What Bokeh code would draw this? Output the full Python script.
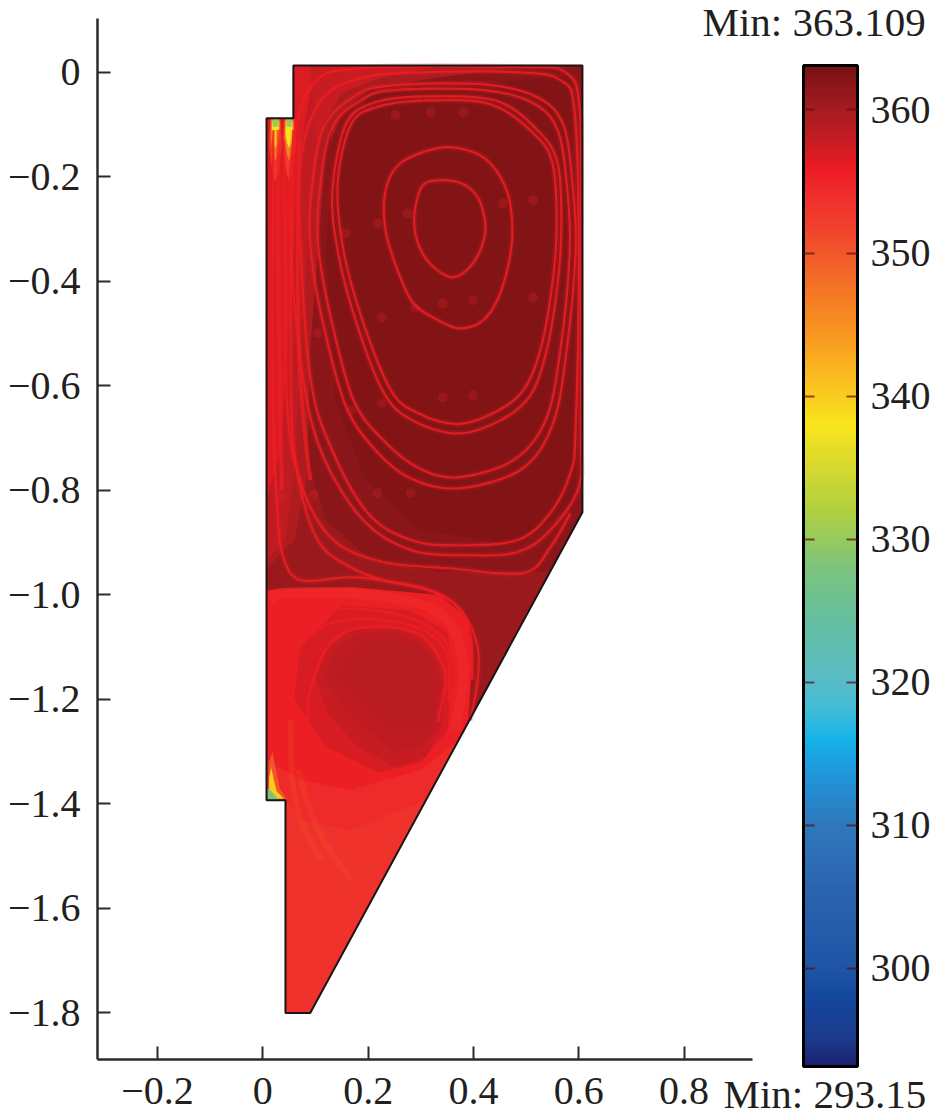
import numpy as np
from bokeh.plotting import figure
from bokeh.models import (ColumnDataSource, Range1d, FixedTicker, ColorBar, LinearColorMapper)
from bokeh.embed import file_html
from bokeh.resources import INLINE

T_MIN = 293.15
T_MAX = 363.109
bar_ticks = [300, 310, 320, 330, 340, 350, 360]
x_ticks = [-0.2, 0, 0.2, 0.4, 0.6, 0.8]
x_tick_labels = ["\u22120.2", "0", "0.2", "0.4", "0.6", "0.8"]
y_ticks = [0, -0.2, -0.4, -0.6, -0.8, -1.0, -1.2, -1.4, -1.6, -1.8]
y_tick_labels = ["0", "\u22120.2", "\u22120.4", "\u22120.6", "\u22120.8", "\u22121.0",
                 "\u22121.2", "\u22121.4", "\u22121.6", "\u22121.8"]
top_note = "Min: 363.109"
bottom_note = "Min: 293.15"

# colour scale
scale_T = [293.15, 295, 298, 300, 305, 310, 314, 316, 318, 320, 325, 328, 332, 336, 338,
           341, 345, 349, 352, 354, 356, 358, 360, 362, 363.2]
scale_hex = ["#1a2270", "#1c3a8c", "#14489e", "#1f55a6", "#2a62ae", "#2f78bc", "#1e9ade",
             "#14b4e8", "#40bcd8", "#58bcc8", "#68bf98", "#7cc47c", "#b0d040", "#e2dc2a",
             "#f8e61c", "#fbc020", "#f79020", "#f26428", "#f0402c", "#ef302c", "#ec1c24",
             "#c41c22", "#a81c20", "#8a161a", "#781212"]

domain_x = [0.058, 0.607, 0.607, 0.090, 0.043, 0.043, 0.007, 0.007, 0.058]
domain_y = [0.013, 0.013, -0.842, -1.80, -1.80, -1.393, -1.393, -0.088, -0.088]

# temperature regions, painted in order
region_T = [353.8, 354.4, 355.6, 360.8, 359.4, 358.2, 356.6, 361.8, 362.5,
            359.8, 357.8,
            357.0, 357.8, 358.2, 358.6, 359.0,
            352, 346, 338, 330, 352, 346, 338, 330,
            350, 340, 328]
region_x = [
    domain_x,
    [0.058, 0.607, 0.607, 0.310, 0.167, 0.072, 0.043, 0.007, 0.007, 0.058],
    [0.058, 0.607, 0.607, 0.372, 0.299, 0.167, 0.072, 0.007, 0.007, 0.058],
    [0.058, 0.607, 0.607, 0.390, 0.398, 0.391, 0.337, 0.167, 0.007, 0.007, 0.058],
    [0.058, 0.360, 0.260, 0.150, 0.125, 0.100, 0.090, 0.060, 0.007, 0.007, 0.058],
    [0.058, 0.300, 0.205, 0.119, 0.091, 0.072, 0.062, 0.043, 0.007, 0.007, 0.058],
    [0.058, 0.167, 0.091, 0.068, 0.053, 0.034, 0.007, 0.007, 0.058],
    [0.160, 0.607, 0.607, 0.545, 0.337, 0.205, 0.120, 0.085, 0.090, 0.105, 0.120],
    [0.205, 0.584, 0.598, 0.594, 0.489, 0.300, 0.195, 0.138, 0.119, 0.138],
    [0.130, 0.500, 0.300, 0.200, 0.150, 0.130],
    [0.090, 0.340, 0.220, 0.150, 0.120, 0.100],
    [0.060, 0.070, 0.150, 0.280, 0.350, 0.365, 0.350, 0.300, 0.220, 0.120],
    [0.100, 0.123, 0.167, 0.248, 0.305, 0.337, 0.347, 0.340, 0.310, 0.250, 0.180, 0.125],
    [0.118, 0.135, 0.175, 0.248, 0.300, 0.330, 0.340, 0.335, 0.300, 0.250, 0.200, 0.150],
    [0.140, 0.180, 0.248, 0.295, 0.325, 0.332, 0.325, 0.290, 0.240, 0.190],
    [0.170, 0.200, 0.250, 0.290, 0.315, 0.320, 0.300, 0.250, 0.200],
    [0.014, 0.034, 0.036, 0.030, 0.024, 0.018, 0.012],
    [0.016, 0.032, 0.033, 0.029, 0.024, 0.019, 0.015],
    [0.018, 0.030, 0.031, 0.028, 0.024, 0.020, 0.017],
    [0.019, 0.029, 0.029, 0.019],
    [0.040, 0.060, 0.062, 0.056, 0.050, 0.044, 0.038],
    [0.042, 0.058, 0.059, 0.055, 0.050, 0.045, 0.041],
    [0.044, 0.056, 0.057, 0.054, 0.050, 0.046, 0.043],
    [0.045, 0.055, 0.055, 0.045],
    [0.010, 0.045, 0.032, 0.024, 0.018, 0.012],
    [0.012, 0.040, 0.026, 0.020, 0.016, 0.012],
    [0.008, 0.030, 0.016, 0.009],
]
region_y = [
    domain_y,
    [0.013, 0.013, -0.842, -1.392, -1.45, -1.43, -1.393, -1.393, -0.088, -0.088],
    [0.013, 0.013, -0.842, -1.278, -1.335, -1.373, -1.354, -1.316, -0.088, -0.088],
    [0.013, 0.013, -0.842, -1.243, -1.125, -1.048, -1.000, -0.985, -0.991, -0.088, -0.088],
    [0.013, 0.011, -0.015, -0.070, -0.245, -0.532, -0.742, -0.895, -0.950, -0.088, -0.088],
    [0.013, 0.010, -0.025, -0.082, -0.245, -0.532, -0.742, -0.895, -0.933, -0.088, -0.088],
    [0.013, 0.010, -0.034, -0.168, -0.436, -0.723, -0.818, -0.088, -0.088],
    [0.013, 0.013, -0.842, -0.956, -0.956, -0.933, -0.857, -0.742, -0.532, -0.340, -0.130],
    [-0.044, -0.006, -0.436, -0.818, -0.905, -0.876, -0.780, -0.627, -0.340, -0.130],
    [0.013, 0.013, -0.015, -0.035, -0.080, -0.130],
    [0.013, 0.013, -0.012, -0.040, -0.090, -0.130],
    [-1.200, -1.100, -1.020, -1.030, -1.070, -1.150, -1.260, -1.320, -1.340, -1.290],
    [-1.160, -1.100, -1.067, -1.062, -1.081, -1.125, -1.163, -1.250, -1.310, -1.330, -1.290, -1.230],
    [-1.160, -1.105, -1.075, -1.070, -1.088, -1.130, -1.170, -1.250, -1.290, -1.300, -1.260, -1.210],
    [-1.150, -1.090, -1.080, -1.095, -1.135, -1.180, -1.240, -1.260, -1.255, -1.210],
    [-1.140, -1.100, -1.090, -1.105, -1.140, -1.190, -1.230, -1.230, -1.190],
    [-0.090, -0.090, -0.140, -0.190, -0.210, -0.190, -0.140],
    [-0.090, -0.090, -0.125, -0.155, -0.170, -0.155, -0.125],
    [-0.094, -0.094, -0.115, -0.135, -0.145, -0.135, -0.115],
    [-0.090, -0.090, -0.104, -0.104],
    [-0.090, -0.090, -0.140, -0.190, -0.210, -0.190, -0.140],
    [-0.090, -0.090, -0.125, -0.155, -0.170, -0.155, -0.125],
    [-0.094, -0.094, -0.115, -0.135, -0.145, -0.135, -0.115],
    [-0.090, -0.090, -0.104, -0.104],
    [-1.390, -1.390, -1.370, -1.330, -1.300, -1.320],
    [-1.390, -1.390, -1.375, -1.350, -1.330, -1.350],
    [-1.392, -1.392, -1.375, -1.370],
]

# closed streamlines of the upper vortex
loop1_x = [.313, .370, .408, .423, .413, .391, .362, .332, .303, .288, .294]
loop1_y = [-.210, -.210, -.239, -.296, -.340, -.375, -.392, -.379, -.346, -.296, -.239]
loop2_x = [.332, .389, .432, .465, .474, .467, .448, .419, .375, .332, .286, .256, .233, .233, .261]
loop2_y = [-.145, -.149, -.174, -.231, -.302, -.365, -.430, -.474, -.490, -.474, -.442, -.379, -.302, -.226, -.174]
loop3_x = [.142, .167, .214, .305, .432, .514, .550, .558, .550, .527, .495, .442, .370, .294, .243, .189, .153]
loop3_y = [-.212, -.101, -.067, -.054, -.061, -.117, -.174, -.289, -.404, -.532, -.608, -.650, -.673, -.652, -.608, -.474, -.340]
loop4_x = [.132, .157, .208, .305, .442, .522, .560, .567, .560, .539, .508, .451, .370, .284, .229, .176, .142]
loop4_y = [-.226, -.101, -.059, -.046, -.054, -.111, -.174, -.289, -.404, -.532, -.618, -.666, -.691, -.666, -.612, -.474, -.340]
loop5_x = [.106, .129, .186, .248, .419, .514, .560, .577, .583, .565, .537, .476, .370, .294, .229, .172, .129, .106]
loop5_y = [-.245, -.111, -.054, -.034, -.034, -.059, -.111, -.212, -.340, -.532, -.666, -.742, -.775, -.756, -.704, -.627, -.469, -.340]
loop6_x = [.091, .113, .176, .248, .419, .522, .571, .588, .594, .577, .550, .489, .370, .281, .214, .157, .113, .091]
loop6_y = [-.245, -.111, -.044, -.025, -.023, -.048, -.101, -.212, -.340, -.532, -.675, -.761, -.796, -.777, -.723, -.637, -.474, -.340]
loop7_x = [.091, .072, .072, .110, .186, .300, .489, .565, .592, .600, .594, .584, .546, .484, .370, .281, .199, .129]
loop7_y = [-.589, -.340, -.168, -.054, -.011, 0, 0, -.015, -.073, -.340, -.685, -.767, -.843, -.895, -.905, -.895, -.843, -.717]
loop8_x = [.077, .053, .056, .094, .186, .489, .575, .602, .604, .604, .600, .546, .484, .389, .281, .191, .115]
loop8_y = [-.589, -.340, -.149, -.025, .008, .010, 0, -.073, -.340, -.685, -.794, -.876, -.918, -.924, -.914, -.857, -.736]
upper_loops_x = [loop1_x, loop2_x, loop3_x, loop4_x, loop5_x, loop6_x, loop7_x, loop8_x]
upper_loops_y = [loop1_y, loop2_y, loop3_y, loop4_y, loop5_y, loop6_y, loop7_y, loop8_y]

# open streamlines: wall strips, separatrix, lower vortex
open1_x = [.039, .043, .047, .077, .134, .229, .356, .495, .546, .584]
open1_y = [-.130, -.340, -.652, -.800, -.895, -.937, -.949, -.958, -.909, -.844]
open2_x = [.020, .018, .028, .039, .072, .167, .248, .332, .381, .408, .408, .394]
open2_y = [-.111, -.589, -.844, -.928, -.972, -.966, -.976, -.997, -1.035, -1.100, -1.163, -1.240]
open3_x = [.058, .053, .066, .104, .167, .229, .305, .362, .394, .398]
open3_y = [-.111, -.589, -.767, -.895, -.947, -.972, -.987, -1.016, -1.073, -1.163]
ring2_x = [.024, .030, .072, .148, .261, .337, .360, .356]
ring2_y = [-1.240, -1.087, -1.039, -1.025, -1.039, -1.077, -1.134, -1.220]
ring3_x = [.062, .056, .081, .157, .280, .347, .353]
ring3_y = [-1.297, -1.163, -1.087, -1.048, -1.058, -1.106, -1.201]
ring4_x = [.091, .085, .096, .123, .167, .248, .305, .337, .347, .332]
ring4_y = [-1.354, -1.226, -1.163, -1.100, -1.067, -1.062, -1.081, -1.125, -1.163, -1.245]
lower_lines_x = [open1_x, open2_x, open3_x, ring2_x, ring3_x, ring4_x]
lower_lines_y = [open1_y, open2_y, open3_y, ring2_y, ring3_y, ring4_y]

band_x = [.015, .034, .167, .294, .351, .375, .381, .366]
band_y = [-1.010, -.997, -.997, -1.016, -1.048, -1.100, -1.163, -1.259]

streak1_x = [.030, .029, .032, .036]
streak1_y = [-.110, -.350, -.600, -.800]
streak2_x = [.070, .066, .072, .090]
streak2_y = [-.130, -.350, -.600, -.780]

faint1_x = [.068, .085, .115, .167]
faint1_y = [-1.335, -1.398, -1.469, -1.546]
faint2_x = [.053, .056, .072, .110]
faint2_y = [-1.240, -1.354, -1.431, -1.507]

spot_x = [.252, .319, .381, .218, .275, .158, .513, .456, .513, .342, .399, .226, .289,
          .104, .039, .342, .399, .167, .226, .218, .281, .097, .037]
spot_y = [-.082, -.077, -.077, -.289, -.270, -.308, -.245, -.251, -.431, -.442, -.436,
          -.469, -.451, -.499, -.499, -.622, -.618, -.647, -.633, -.805, -.805, -.809, -.813]


def hex_rgb(h):
    return [int(h[i:i + 2], 16) for i in (1, 3, 5)]


rgb = np.array([hex_rgb(h) for h in scale_hex], dtype=float)
levels = np.linspace(T_MIN, T_MAX, 256)
palette = ["#%02x%02x%02x" % tuple(int(round(np.interp(t, scale_T, rgb[:, k]))) for k in range(3))
           for t in levels]
mapper = LinearColorMapper(palette=palette, low=T_MIN, high=T_MAX)


def curve_segments(xs, ys, closed):
    """Bezier segments through the read points (Catmull-Rom tangents)."""
    n = len(xs)
    out = {k: [] for k in ("x0", "y0", "x1", "y1", "cx0", "cy0", "cx1", "cy1")}
    last = n if closed else n - 1
    for i in range(last):
        if closed:
            a, b, c, d = (i - 1) % n, i, (i + 1) % n, (i + 2) % n
        else:
            a, b, c, d = max(i - 1, 0), i, i + 1, min(i + 2, n - 1)
        out["x0"].append(xs[b]); out["y0"].append(ys[b])
        out["x1"].append(xs[c]); out["y1"].append(ys[c])
        out["cx0"].append(xs[b] + (xs[c] - xs[a]) / 6); out["cy0"].append(ys[b] + (ys[c] - ys[a]) / 6)
        out["cx1"].append(xs[c] - (xs[d] - xs[b]) / 6); out["cy1"].append(ys[c] - (ys[d] - ys[b]) / 6)
    return out


def draw_curves(fig, xs_list, ys_list, closed, **kw):
    merged = {k: [] for k in ("x0", "y0", "x1", "y1", "cx0", "cy0", "cx1", "cy1")}
    for xs, ys in zip(xs_list, ys_list):
        seg = curve_segments(xs, ys, closed)
        for k in merged:
            merged[k].extend(seg[k])
    fig.bezier("x0", "y0", "x1", "y1", "cx0", "cy0", "cx1", "cy1",
               source=ColumnDataSource(merged), **kw)


FONT = "Liberation Serif"
FS = "40px"
INK = "#231f20"

p = figure(frame_width=655, frame_height=1041, min_border_left=97, min_border_right=179,
           min_border_top=18, min_border_bottom=60,
           x_range=Range1d(-0.314, 0.930), y_range=Range1d(-1.889, 0.103),
           output_backend="svg", toolbar_location=None)
p.grid.visible = False
p.outline_line_color = None
p.background_fill_color = "white"

for ax, ticks, labels in ((p.xaxis[0], x_ticks, x_tick_labels), (p.yaxis[0], y_ticks, y_tick_labels)):
    ax.ticker = FixedTicker(ticks=ticks)
    ax.major_label_overrides = dict(zip(ticks, labels))
    ax.major_tick_in = 13
    ax.major_tick_out = 0
    ax.minor_tick_in = 0
    ax.minor_tick_out = 0
    ax.axis_line_width = 2.5
    ax.axis_line_color = "#2b2b2b"
    ax.major_tick_line_width = 2
    ax.major_tick_line_color = "#2b2b2b"
    ax.major_label_text_font = FONT
    ax.major_label_text_font_size = FS
    ax.major_label_text_color = INK
p.xaxis[0].major_label_standoff = 18
p.yaxis[0].major_label_standoff = 17

p.patches(xs="x", ys="y", source=ColumnDataSource(dict(x=region_x, y=region_y, T=region_T)),
          fill_color={"field": "T", "transform": mapper}, line_color=None)

p.scatter(spot_x, spot_y, size=10, color="#ee2a2a", alpha=0.22, line_color=None)

draw_curves(p, upper_loops_x, upper_loops_y, True, line_color="#ee2024", line_width=6, line_alpha=0.18)
draw_curves(p, lower_lines_x, lower_lines_y, False, line_color="#ee2024", line_width=6, line_alpha=0.18)
draw_curves(p, [band_x], [band_y], False, line_color="#ef2a2a", line_width=10, line_alpha=0.7)
draw_curves(p, [streak1_x, streak2_x], [streak1_y, streak2_y], False, line_color="#ee2024", line_width=4, line_alpha=0.7)
draw_curves(p, upper_loops_x, upper_loops_y, True, line_color="#ec1f26", line_width=2.2, line_alpha=0.85)
draw_curves(p, lower_lines_x, lower_lines_y, False, line_color="#ec1f26", line_width=2.2, line_alpha=0.85)
draw_curves(p, [faint1_x, faint2_x], [faint1_y, faint2_y], False, line_color="#f26428", line_width=6, line_alpha=0.18)

p.patch(domain_x + domain_x[:1], domain_y + domain_y[:1], fill_color=None, line_color="#1c1414", line_width=2)

bar = ColorBar(color_mapper=mapper, ticker=FixedTicker(ticks=bar_ticks), width=54, height=1001,
               location=(706, -7), padding=0, margin=0,
               bar_line_color="black", bar_line_width=3,
               major_tick_in=11, major_tick_line_color="#5a1010", major_tick_line_width=2,
               major_tick_line_alpha=0.7, minor_tick_line_color=None,
               major_label_text_font=FONT, major_label_text_font_size=FS,
               major_label_text_color=INK, label_standoff=13, title=None,
               background_fill_color=None, border_line_color=None)
p.add_layout(bar, "center")

# ticks on the left edge of the bar: a second, transparent bar whose ticks point into the first
left_ticks = ColorBar(color_mapper=mapper, ticker=FixedTicker(ticks=bar_ticks), width=1, height=1001,
                      location=(705, -7), padding=0, margin=0, scale_alpha=0,
                      bar_line_color=None, major_tick_in=0, major_tick_out=11,
                      major_tick_line_color="#5a1010", major_tick_line_width=2,
                      major_tick_line_alpha=0.7, minor_tick_line_color=None,
                      major_label_overrides={t: "" for t in bar_ticks},
                      background_fill_color=None, border_line_color=None)
p.add_layout(left_ticks, "center")


def note(text, x, y):
    # the two "Min" notes lie outside the frame; a colour bar's title is not clipped to it
    cb = ColorBar(color_mapper=mapper, ticker=FixedTicker(ticks=[]), width=200, height=1,
                  orientation="horizontal", location=(x, y), padding=0, margin=0, scale_alpha=0,
                  bar_line_color=None, major_tick_line_color=None, minor_tick_line_color=None,
                  major_label_text_font_size="1px", label_standoff=0,
                  title=text, title_standoff=0, title_text_font=FONT, title_text_font_size="41px",
                  title_text_font_style="normal", title_text_color=INK,
                  background_fill_color=None, border_line_color=None)
    p.add_layout(cb, "center")


note(top_note, 605, 1014)
note(bottom_note, 626, -58)

open("out.html", "w").write(file_html(p, INLINE))
